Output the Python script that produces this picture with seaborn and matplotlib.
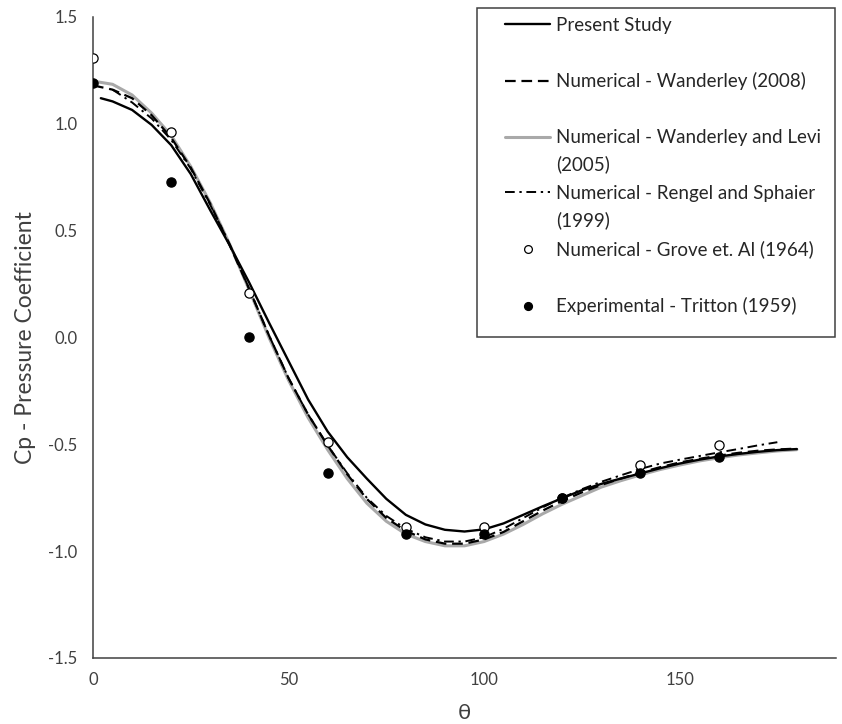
import numpy as np
import pandas as pd
import matplotlib
matplotlib.use("Agg")
import matplotlib.pyplot as plt
from matplotlib.patches import Rectangle
from matplotlib.lines import Line2D
from matplotlib.text import Annotation
from matplotlib.ticker import MultipleLocator, FormatStrFormatter
import seaborn as sns

# ---- pressure coefficient distributions around the cylinder ----
theta_present = [2, 5, 10, 15, 20, 25, 30, 35, 40, 45, 50, 55, 60, 65, 70, 75, 80, 85, 90,
                 95, 100, 105, 110, 115, 120, 125, 130, 135, 140, 145, 150, 155, 160, 165,
                 170, 175, 180]
cp_present = [1.120, 1.105, 1.065, 0.995, 0.900, 0.765, 0.595, 0.430, 0.255, 0.070, -0.110,
              -0.290, -0.440, -0.560, -0.660, -0.755, -0.830, -0.875, -0.900, -0.908, -0.898,
              -0.870, -0.830, -0.790, -0.752, -0.715, -0.685, -0.660, -0.636, -0.612, -0.590,
              -0.572, -0.557, -0.545, -0.535, -0.527, -0.522]

theta_full = [0, 5, 10, 15, 20, 25, 30, 35, 40, 45, 50, 55, 60, 65, 70, 75, 80, 85, 90,
              95, 100, 105, 110, 115, 120, 125, 130, 135, 140, 145, 150, 155, 160, 165,
              170, 175, 180]
cp_wanderley_2008 = [1.180, 1.160, 1.120, 1.040, 0.935, 0.795, 0.625, 0.430, 0.225, 0.010,
                     -0.190, -0.360, -0.505, -0.640, -0.755, -0.845, -0.905, -0.945, -0.965,
                     -0.965, -0.945, -0.910, -0.860, -0.810, -0.765, -0.725, -0.690, -0.660,
                     -0.632, -0.607, -0.585, -0.568, -0.553, -0.540, -0.530, -0.524, -0.520]
cp_wanderley_levi = [1.200, 1.185, 1.135, 1.050, 0.945, 0.800, 0.630, 0.435, 0.220, 0.000,
                     -0.200, -0.375, -0.525, -0.660, -0.775, -0.860, -0.920, -0.955, -0.975,
                     -0.975, -0.955, -0.920, -0.875, -0.825, -0.780, -0.740, -0.700, -0.670,
                     -0.643, -0.618, -0.597, -0.578, -0.563, -0.550, -0.540, -0.531, -0.525]

theta_rengel = [5, 10, 15, 20, 25, 30, 35, 40, 45, 50, 55, 60, 65, 70, 75, 80, 85, 90, 95,
                100, 105, 110, 115, 120, 125, 130, 135, 140, 145, 150, 155, 160, 165, 170, 175]
cp_rengel = [1.160, 1.100, 1.025, 0.925, 0.790, 0.620, 0.435, 0.225, 0.010, -0.190, -0.360,
             -0.505, -0.635, -0.750, -0.835, -0.895, -0.935, -0.955, -0.955, -0.935, -0.895,
             -0.845, -0.795, -0.750, -0.710, -0.675, -0.645, -0.615, -0.590, -0.572, -0.555,
             -0.538, -0.522, -0.505, -0.490]

theta_points = [0, 20, 40, 60, 80, 100, 120, 140, 160]
cp_grove = [1.31, 0.96, 0.21, -0.49, -0.886, -0.886, -0.75, -0.598, -0.502]
cp_tritton = [1.19, 0.73, 0.00, -0.635, -0.92, -0.92, -0.75, -0.633, -0.56]

labels = ["Present Study",
          "Numerical - Wanderley (2008)",
          "Numerical - Wanderley and Levi",
          "Numerical - Rengel and Sphaier",
          "Numerical - Grove et. Al (1964)",
          "Experimental - Tritton (1959)"]
second_lines = {2: "(2005)", 3: "(1999)"}

sns.set_style("white")
plt.rcParams["font.family"] = ["Lato", "DejaVu Sans"]

W, H = 842, 724
fig = plt.figure(figsize=(W / 100, H / 100), dpi=100)
ax = fig.add_axes([93 / W, 1 - 658 / H, 743 / W, 641 / H])

axis_col = "#404040"
text_col = "#404040"
legend_col = "#262626"

SOLID = dict(color="black", linewidth=1.7)
DASH = dict(color="black", linewidth=1.6, dashes=(4.8, 2.6))
GRAY = dict(color="#A9A9A9", linewidth=2.2)
DASHDOT = dict(color="black", linewidth=1.4, dashes=(5.0, 2.4, 1.2, 2.4))

sns.lineplot(x=theta_full, y=cp_wanderley_levi, ax=ax, sort=False, zorder=2, **GRAY)
sns.lineplot(x=theta_full, y=cp_wanderley_2008, ax=ax, sort=False, zorder=3, **DASH)
sns.lineplot(x=theta_rengel, y=cp_rengel, ax=ax, sort=False, zorder=3, **DASHDOT)
sns.lineplot(x=theta_present, y=cp_present, ax=ax, sort=False, zorder=4, **SOLID)

sns.scatterplot(x=theta_points, y=cp_grove, ax=ax, marker="o", s=44, color="white",
                edgecolor="black", linewidth=0.9, zorder=5)
sns.scatterplot(x=theta_points, y=cp_tritton, ax=ax, marker="o", s=44, color="black",
                edgecolor="black", linewidth=0.9, zorder=6)

ax.set_xlim(0, 190)
ax.set_ylim(-1.5, 1.5)
ax.xaxis.set_major_locator(MultipleLocator(50))
ax.xaxis.set_minor_locator(MultipleLocator(10))
ax.yaxis.set_major_locator(MultipleLocator(0.5))
ax.yaxis.set_minor_locator(MultipleLocator(0.1))
ax.yaxis.set_major_formatter(FormatStrFormatter("%.1f"))

for s in ["top", "right"]:
    ax.spines[s].set_visible(False)
for s in ["left", "bottom"]:
    ax.spines[s].set_color(axis_col)
    ax.spines[s].set_linewidth(1.1)

ax.tick_params(which="major", direction="inout", length=10, width=1.0, color=axis_col,
               labelsize=12, labelcolor=text_col, pad=6)
ax.tick_params(which="minor", direction="in", length=4.5, width=1.0, color=axis_col)
ax.tick_params(axis="x", which="major", pad=5)

ax.set_xlabel("θ", fontsize=16, color=text_col, labelpad=11)
ax.set_ylabel("Cp - Pressure Coefficient", fontsize=16.5, color=text_col, labelpad=9)

# legend
h_solid = Line2D([], [], **SOLID)
h_dash = Line2D([], [], **DASH)
h_gray = Line2D([], [], **GRAY)
h_dashdot = Line2D([], [], **DASHDOT)
h_open = Line2D([], [], linestyle="none", marker="o", markersize=5.6,
                markerfacecolor="white", markeredgecolor="black", markeredgewidth=0.9)
h_fill = Line2D([], [], linestyle="none", marker="o", markersize=5.6,
                markerfacecolor="black", markeredgecolor="black")

fs = 13.5
fpx = fs * 100 / 72
leg = ax.legend([h_solid, h_dash, h_gray, h_dashdot, h_open, h_fill], labels,
                loc="upper left", bbox_to_anchor=(505 / W, 1 - (25 - 0.45 * fpx) / H),
                bbox_transform=fig.transFigure, frameon=False, fontsize=fs,
                borderpad=0, borderaxespad=0, handlelength=45 / fpx,
                handletextpad=6 / fpx, labelspacing=(57.5 - 1.0 * fpx) / fpx)
leg_texts = leg.get_texts()
for t in leg_texts:
    t.set_color(legend_col)
for i, txt in second_lines.items():
    ann = Annotation(txt, xy=(0, 0), xycoords=leg_texts[i], xytext=(0, -6.5),
                     textcoords="offset points", ha="left", va="top", fontsize=fs,
                     color=legend_col, annotation_clip=False, zorder=12)
    fig.add_artist(ann)

# legend frame
fig.patches.append(Rectangle((477 / W, 1 - 337 / H), 358 / W, 329 / H,
                             transform=fig.transFigure, fill=False,
                             edgecolor=axis_col, linewidth=1.1, zorder=10))

fig.savefig("out.png", dpi=100)
